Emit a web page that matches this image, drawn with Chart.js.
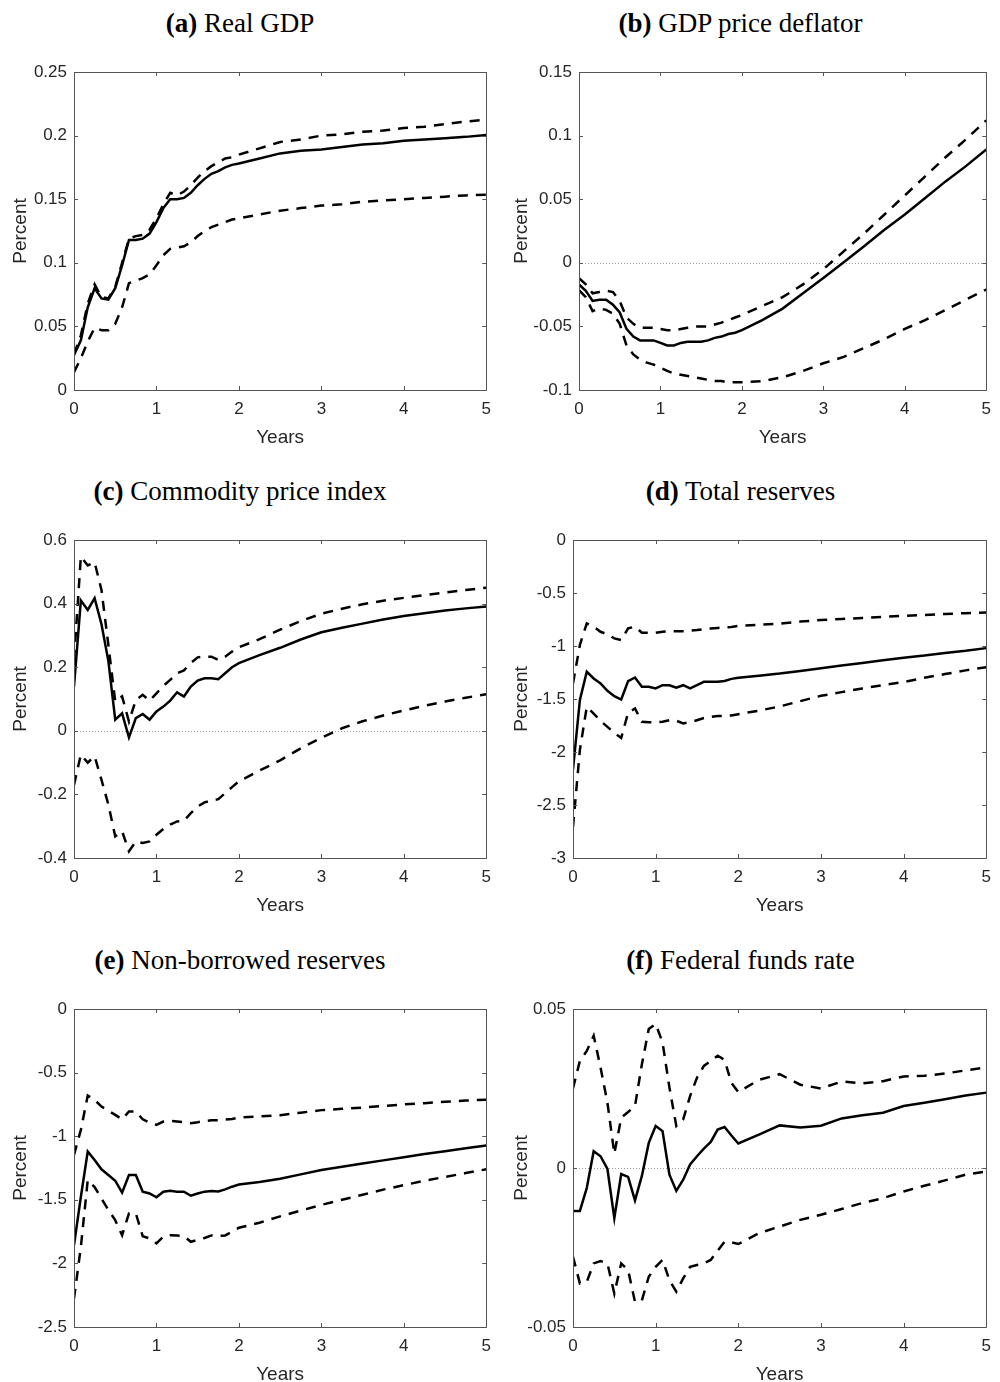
<!DOCTYPE html>
<html>
<head>
<meta charset="utf-8">
<script src="https://cdn.jsdelivr.net/npm/chart.js@4/dist/chart.umd.min.js"></script>
<style>
  html, body { margin: 0; padding: 0; background: #fff; }
  body { position: relative; width: 1000px; height: 1382px; overflow: hidden; }
  .panel { position: absolute; }
  .title {
    position: absolute; width: 500px; text-align: center;
    font-family: "Liberation Serif", "Times New Roman", serif;
    font-size: 27px; line-height: 32px; color: #000; white-space: nowrap;
  }
  .title b { font-weight: bold; }
</style>
</head>
<body>
<script>
'use strict';

// horizon in months: monthly for two years, quarterly after
const months = [0, 1, 2, 3, 4, 5, 6, 7, 8, 9, 10, 11, 12, 13, 14, 15, 16, 17, 18, 19, 20, 21, 22, 23, 24,
  27, 30, 33, 36, 39, 42, 45, 48, 51, 54, 57, 60];
const xTicks = [0, 1, 2, 3, 4, 5];

const panelLetters = ['a', 'b', 'c', 'd', 'e', 'f'];
const panelNames = ['Real GDP', 'GDP price deflator', 'Commodity price index',
  'Total reserves', 'Non-borrowed reserves', 'Federal funds rate'];

// (a) Real GDP
const gdpMid = [0.0275, 0.039, 0.065, 0.080, 0.072, 0.071, 0.080, 0.098, 0.118, 0.118, 0.119, 0.123, 0.132,
  0.143, 0.150, 0.150, 0.151, 0.155, 0.161, 0.166, 0.170, 0.172, 0.175, 0.177, 0.178,
  0.182, 0.186, 0.188, 0.189, 0.191, 0.193, 0.194, 0.196, 0.197, 0.198, 0.199, 0.2005];
const gdpUpper = [0.028, 0.043, 0.068, 0.083, 0.073, 0.072, 0.081, 0.100, 0.119, 0.121, 0.122, 0.126, 0.135,
  0.146, 0.155, 0.153, 0.156, 0.161, 0.167, 0.172, 0.176, 0.179, 0.182, 0.183, 0.185,
  0.190, 0.195, 0.197, 0.200, 0.201, 0.203, 0.204, 0.206, 0.207, 0.209, 0.211, 0.2125];
const gdpLower = [0.014, 0.025, 0.038, 0.049, 0.047, 0.047, 0.052, 0.065, 0.084, 0.086, 0.088, 0.091, 0.098,
  0.106, 0.111, 0.112, 0.113, 0.116, 0.121, 0.125, 0.128, 0.130, 0.132, 0.134, 0.135,
  0.138, 0.141, 0.143, 0.145, 0.146, 0.148, 0.149, 0.150, 0.151, 0.152, 0.153, 0.1535];
const gdpTicks = [0, 0.05, 0.1, 0.15, 0.2, 0.25];

// (b) GDP price deflator
const deflMid = [-0.017, -0.022, -0.030, -0.029, -0.029, -0.033, -0.039, -0.052, -0.058, -0.061, -0.061, -0.061, -0.063,
  -0.065, -0.065, -0.063, -0.062, -0.062, -0.062, -0.061, -0.059, -0.058, -0.056, -0.055, -0.053,
  -0.045, -0.036, -0.024, -0.012, 0.0005, 0.013, 0.026, 0.038, 0.051, 0.064, 0.076, 0.089];
const deflUpper = [-0.012, -0.017, -0.024, -0.023, -0.022, -0.023, -0.030, -0.043, -0.048, -0.051, -0.051, -0.051, -0.052,
  -0.053, -0.053, -0.052, -0.051, -0.050, -0.050, -0.050, -0.0485, -0.047, -0.045, -0.043, -0.041,
  -0.034, -0.027, -0.017, -0.005, 0.009, 0.023, 0.038, 0.053, 0.068, 0.083, 0.097, 0.112];
const deflLower = [-0.0215, -0.027, -0.038, -0.036, -0.037, -0.040, -0.048, -0.065, -0.072, -0.076, -0.0785, -0.080, -0.0825,
  -0.085, -0.087, -0.088, -0.089, -0.090, -0.091, -0.092, -0.093, -0.093, -0.094, -0.094, -0.094,
  -0.093, -0.090, -0.085, -0.079, -0.074, -0.067, -0.060, -0.052, -0.045, -0.037, -0.029, -0.021];
const deflTicks = [-0.1, -0.05, 0, 0.05, 0.1, 0.15];

// (c) Commodity price index
const commMid = [0.139, 0.41, 0.38, 0.417, 0.335, 0.22, 0.035, 0.055, -0.021, 0.04, 0.053, 0.035, 0.061,
  0.076, 0.095, 0.121, 0.108, 0.139, 0.158, 0.165, 0.165, 0.162, 0.181, 0.20, 0.213,
  0.238, 0.261, 0.287, 0.310, 0.324, 0.337, 0.350, 0.361, 0.370, 0.378, 0.385, 0.391];
const commUpper = [0.223, 0.548, 0.52, 0.53, 0.443, 0.27, 0.092, 0.108, 0.029, 0.097, 0.113, 0.095, 0.118,
  0.141, 0.16, 0.181, 0.19, 0.213, 0.231, 0.233, 0.233, 0.223, 0.233, 0.249, 0.263,
  0.288, 0.318, 0.345, 0.368, 0.384, 0.398, 0.409, 0.418, 0.427, 0.435, 0.443, 0.45];
const commLower = [-0.17, -0.075, -0.10, -0.08, -0.154, -0.232, -0.332, -0.316, -0.379, -0.348, -0.353, -0.348, -0.327,
  -0.309, -0.295, -0.285, -0.283, -0.259, -0.238, -0.225, -0.219, -0.215, -0.196, -0.177, -0.159,
  -0.125, -0.093, -0.055, -0.022, 0.008, 0.03, 0.048, 0.064, 0.079, 0.092, 0.104, 0.115];
const commTicks = [-0.4, -0.2, 0, 0.2, 0.4, 0.6];

// (d) Total reserves
const resMid = [-2.165, -1.51, -1.243, -1.306, -1.353, -1.423, -1.473, -1.505, -1.331, -1.297, -1.385, -1.385, -1.40,
  -1.37, -1.37, -1.394, -1.37, -1.40, -1.37, -1.338, -1.338, -1.338, -1.33, -1.31, -1.30,
  -1.28, -1.26, -1.235, -1.21, -1.185, -1.16, -1.135, -1.11, -1.09, -1.065, -1.045, -1.02];
const resUpper = [-1.353, -0.99, -0.787, -0.818, -0.866, -0.89, -0.928, -0.944, -0.834, -0.818, -0.875, -0.875, -0.875,
  -0.865, -0.86, -0.86, -0.86, -0.855, -0.85, -0.84, -0.835, -0.83, -0.825, -0.82, -0.81,
  -0.80, -0.79, -0.77, -0.755, -0.745, -0.735, -0.725, -0.715, -0.707, -0.698, -0.69, -0.683];
const resLower = [-2.707, -1.98, -1.574, -1.637, -1.706, -1.763, -1.82, -1.867, -1.63, -1.59, -1.715, -1.72, -1.72,
  -1.715, -1.70, -1.705, -1.73, -1.72, -1.70, -1.68, -1.67, -1.66, -1.66, -1.655, -1.643,
  -1.61, -1.57, -1.52, -1.47, -1.435, -1.40, -1.37, -1.34, -1.30, -1.265, -1.23, -1.2];
const resTicks = [-3, -2.5, -2, -1.5, -1, -0.5, 0];

// (e) Non-borrowed reserves
const nbrMid = [-1.857, -1.476, -1.12, -1.187, -1.26, -1.305, -1.35, -1.444, -1.305, -1.305, -1.436, -1.45, -1.48,
  -1.436, -1.429, -1.436, -1.436, -1.468, -1.45, -1.436, -1.431, -1.434, -1.418, -1.397, -1.38,
  -1.36, -1.335, -1.30, -1.265, -1.24, -1.215, -1.19, -1.165, -1.14, -1.118, -1.095, -1.074];
const nbrUpper = [-1.148, -0.95, -0.68, -0.714, -0.767, -0.80, -0.832, -0.867, -0.806, -0.806, -0.867, -0.893, -0.911,
  -0.885, -0.88, -0.885, -0.89, -0.898, -0.89, -0.88, -0.875, -0.875, -0.87, -0.865, -0.853,
  -0.845, -0.835, -0.815, -0.795, -0.785, -0.775, -0.762, -0.75, -0.74, -0.73, -0.72, -0.713];
const nbrLower = [-2.277, -1.87, -1.345, -1.40, -1.49, -1.58, -1.66, -1.778, -1.607, -1.607, -1.786, -1.804, -1.843,
  -1.79, -1.778, -1.78, -1.785, -1.83, -1.815, -1.80, -1.78, -1.785, -1.78, -1.75, -1.72,
  -1.68, -1.63, -1.585, -1.54, -1.50, -1.46, -1.42, -1.385, -1.35, -1.32, -1.29, -1.26];
const nbrTicks = [-2.5, -2, -1.5, -1, -0.5, 0];

// (f) Federal funds rate
const ffrMid = [-0.0135, -0.0135, -0.0063, 0.0053, 0.0037, -0.0003, -0.0158, -0.0019, -0.0028, -0.0102, -0.0025, 0.0079, 0.0132,
  0.0116, -0.0021, -0.0072, -0.0037, 0.0011, 0.0037, 0.0061, 0.0082, 0.0121, 0.0129, 0.0102, 0.0077,
  0.0105, 0.0134, 0.0127, 0.0133, 0.0156, 0.0166, 0.0174, 0.0195, 0.0205, 0.0216, 0.0228, 0.0237];
const ffrUpper = [0.025, 0.0337, 0.0368, 0.0416, 0.0316, 0.0205, 0.0045, 0.0158, 0.0176, 0.0195, 0.0326, 0.0437, 0.0453,
  0.0395, 0.0253, 0.0132, 0.0153, 0.0226, 0.0284, 0.0321, 0.0337, 0.0353, 0.034, 0.0268, 0.0239,
  0.0277, 0.0295, 0.0262, 0.025, 0.0272, 0.0266, 0.0273, 0.0288, 0.029, 0.0297, 0.0307, 0.0316];
const ffrLower = [-0.0279, -0.0363, -0.0358, -0.030, -0.0293, -0.030, -0.0395, -0.030, -0.0321, -0.0421, -0.0416, -0.0342, -0.0311,
  -0.0289, -0.0353, -0.0389, -0.0347, -0.0311, -0.0305, -0.030, -0.0289, -0.026, -0.0232, -0.0234, -0.0239,
  -0.0205, -0.0184, -0.0163, -0.0147, -0.0129, -0.011, -0.0095, -0.0074, -0.0056, -0.0039, -0.0021, -0.0011];
const ffrTicks = [-0.05, 0, 0.05];

const series = [
  [gdpMid, gdpUpper, gdpLower, gdpTicks],
  [deflMid, deflUpper, deflLower, deflTicks],
  [commMid, commUpper, commLower, commTicks],
  [resMid, resUpper, resLower, resTicks],
  [nbrMid, nbrUpper, nbrLower, nbrTicks],
  [ffrMid, ffrUpper, ffrLower, ffrTicks],
];

// page layout (plot box edges in page pixels)
const colX = [0, 500];
const rowTop = [40, 508, 977];
const plotLeft = [74, 579, 74, 573, 74, 573];
const plotRight = [491, 990, 491, 991, 491, 991];
const titleCenter = [240, 740.5];
const titleTop = [7, 475, 944];

const AXIS = '#262626';

const matlabAxes = {
  id: 'matlabAxes',
  beforeDatasetsDraw(chart) {
    const {ctx, chartArea: a, scales: {y}} = chart;
    if (y.min < 0 && y.max > 0) {
      const py = Math.round(y.getPixelForValue(0)) + 0.5;
      ctx.save();
      ctx.strokeStyle = '#999';
      ctx.lineWidth = 1;
      ctx.setLineDash([1, 2]);
      ctx.beginPath();
      ctx.moveTo(a.left, py);
      ctx.lineTo(a.right, py);
      ctx.stroke();
      ctx.restore();
    }
  },
  afterDatasetsDraw(chart) {
    const {ctx, chartArea: a, scales: {x, y}} = chart;
    const len = 4;
    ctx.save();
    ctx.strokeStyle = '#555';
    ctx.lineWidth = 1;
    ctx.beginPath();
    ctx.rect(Math.round(a.left) + 0.5, Math.round(a.top) + 0.5,
      Math.round(a.right - a.left), Math.round(a.bottom - a.top));
    for (const t of x.ticks) {
      const px = Math.round(x.getPixelForValue(t.value)) + 0.5;
      ctx.moveTo(px, a.bottom); ctx.lineTo(px, a.bottom - len);
      ctx.moveTo(px, a.top); ctx.lineTo(px, a.top + len);
    }
    for (const t of y.ticks) {
      const py = Math.round(y.getPixelForValue(t.value)) + 0.5;
      ctx.moveTo(a.left, py); ctx.lineTo(a.left + len, py);
      ctx.moveTo(a.right, py); ctx.lineTo(a.right - len, py);
    }
    ctx.stroke();
    ctx.restore();
  }
};

function toPoints(values) {
  return months.map((m, i) => ({x: m / 12, y: values[i]}));
}

function lineSet(values, dashed) {
  return {
    data: toPoints(values),
    borderColor: '#000',
    borderWidth: 2.5,
    borderDash: dashed ? [10, 8] : [],
    pointRadius: 0,
    tension: 0,
    fill: false,
  };
}

series.forEach(([mid, upper, lower, yTicks], i) => {
  const col = i % 2;
  const row = Math.floor(i / 2);
  const left = colX[col];

  const title = document.createElement('div');
  title.className = 'title';
  title.style.left = (titleCenter[col] - 250) + 'px';
  title.style.top = titleTop[row] + 'px';
  title.innerHTML = '<b>(' + panelLetters[i] + ')</b> ' + panelNames[i];
  document.body.appendChild(title);

  const canvas = document.createElement('canvas');
  canvas.className = 'panel';
  canvas.width = 500;
  canvas.height = 410;
  canvas.style.left = left + 'px';
  canvas.style.top = rowTop[row] + 'px';
  document.body.appendChild(canvas);

  const yAxisWidth = plotLeft[i] - left;
  const rightPad = left + 500 - plotRight[i];

  new Chart(canvas, {
    type: 'line',
    data: {
      datasets: [lineSet(upper, true), lineSet(mid, false), lineSet(lower, true)]
    },
    options: {
      responsive: false,
      animation: false,
      devicePixelRatio: 1,
      layout: {padding: {left: 0, top: 32, right: rightPad, bottom: 0}},
      plugins: {legend: {display: false}, tooltip: {enabled: false}},
      scales: {
        x: {
          type: 'linear',
          min: 0,
          max: 5,
          afterBuildTicks: (s) => { s.ticks = xTicks.map(v => ({value: v})); },
          afterFit: (s) => { s.height = 60; },
          grid: {display: false, drawTicks: false, tickLength: 0},
          border: {display: false},
          ticks: {
            color: AXIS, padding: 9, maxRotation: 0, autoSkip: false,
            font: {family: 'Liberation Sans', size: 17},
            callback: (v) => String(v)
          },
          title: {
            display: true, text: 'Years', color: AXIS,
            font: {family: 'Liberation Sans', size: 19},
            padding: {top: 0, bottom: 1}
          }
        },
        y: {
          type: 'linear',
          min: yTicks[0],
          max: yTicks[yTicks.length - 1],
          afterBuildTicks: (s) => { s.ticks = yTicks.map(v => ({value: v})); },
          afterFit: (s) => { s.width = yAxisWidth; },
          grid: {display: false, drawTicks: false, tickLength: 0},
          border: {display: false},
          ticks: {
            color: AXIS, padding: 7, autoSkip: false,
            font: {family: 'Liberation Sans', size: 17},
            callback: (v) => String(v)
          },
          title: {
            display: true, text: 'Percent', color: AXIS,
            font: {family: 'Liberation Sans', size: 19},
            padding: {top: col === 0 ? 9 : 10, bottom: 0}
          }
        }
      }
    },
    plugins: [matlabAxes]
  });
});
</script>
</body>
</html>
